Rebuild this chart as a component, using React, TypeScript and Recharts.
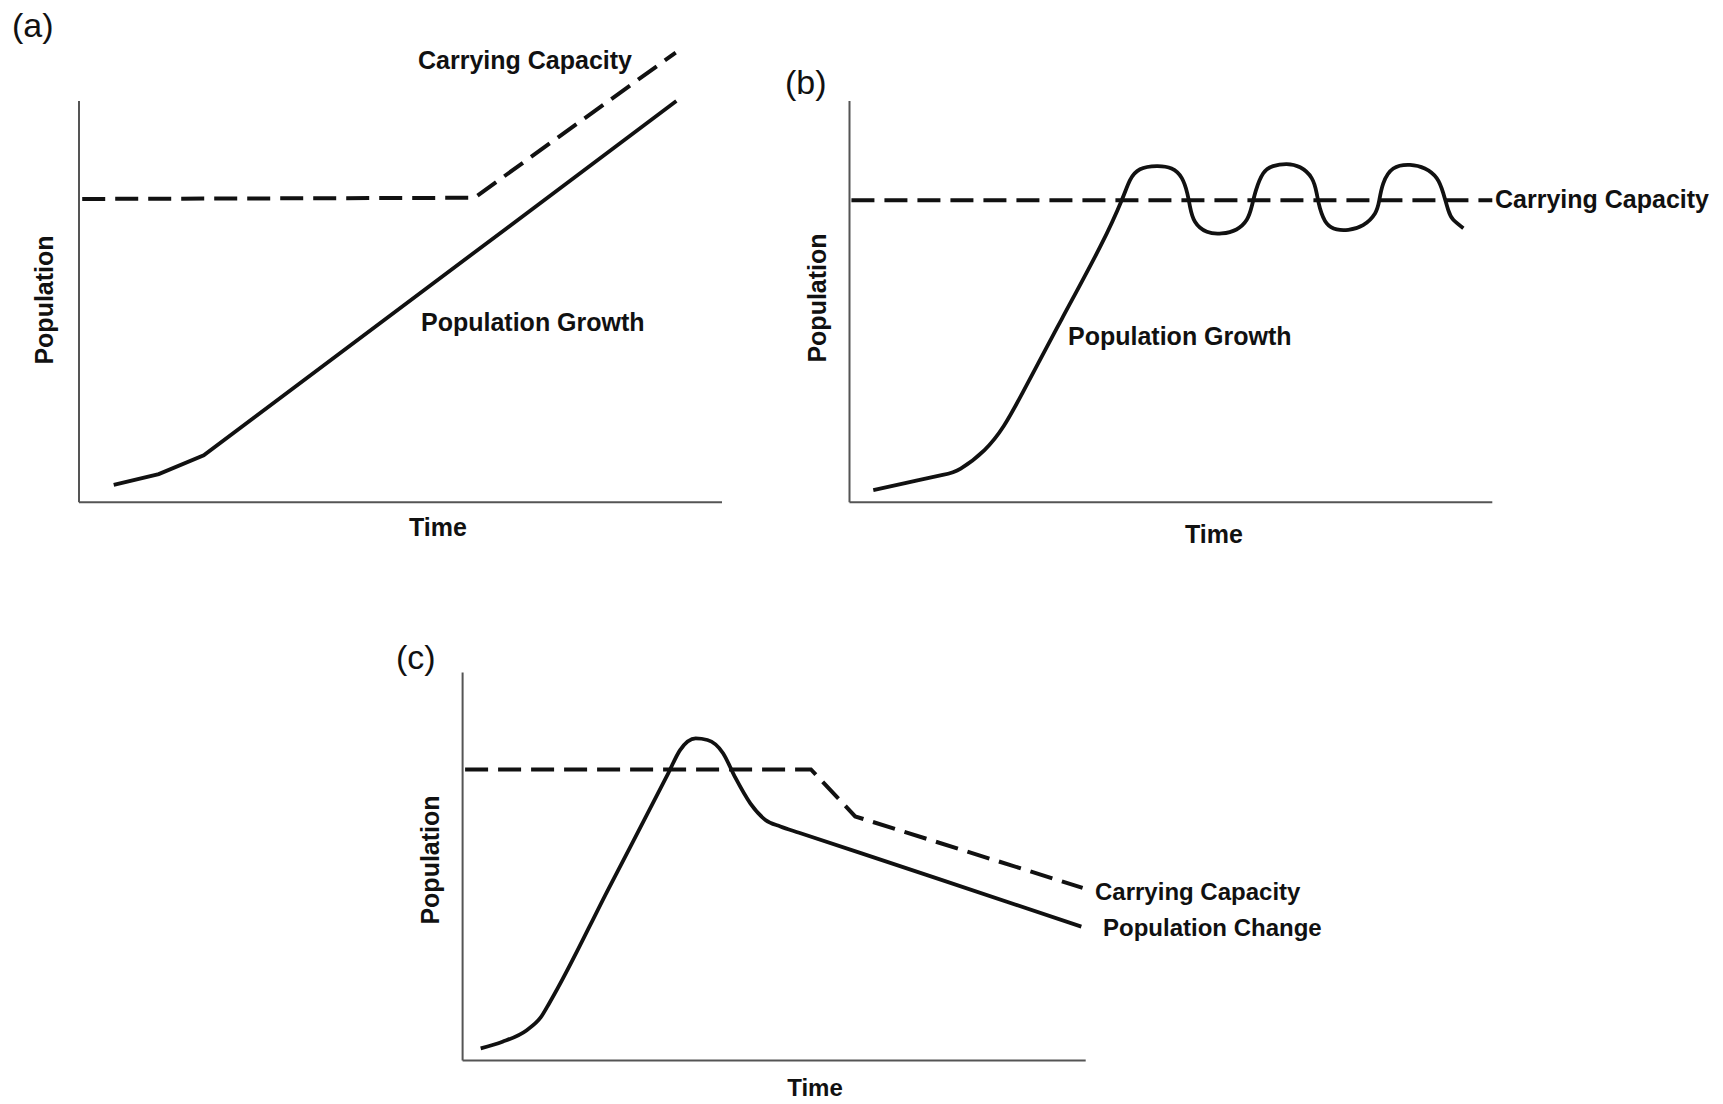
import React from 'react';
import { LineChart, Line, XAxis, YAxis, ReferenceLine } from 'recharts';

// ---------- Panel (a): carrying capacity rises, population keeps growing ----------
const aCapacityTime = [0.5, 61.5, 92.8];
const aCapacityValue = [75.6, 75.9, 112.1];
const aGrowthTime = [5.4, 12.4, 19.4, 92.9];
const aGrowthValue = [4.3, 7.0, 11.7, 100];

// ---------- Panel (b): population oscillates around carrying capacity ----------
const bCapacityTime = [0.3, 100];
const bCapacityValue = [75.3, 75.3];
const bGrowthTime = [
  3.7, 9.0, 14.5, 17.3, 21.0, 24.0, 27.0, 33.0, 39.0, 42.35, 43.64, 45.2, 47.8, 50.1, 51.7, 52.55, 52.97,
  53.75, 55.6, 57.9, 60.2, 61.8, 62.57, 63.24, 64.37, 65.9, 68.0, 70.1, 71.9, 72.68, 73.19, 74.24,
  75.8, 77.6, 79.9, 81.75, 82.42, 83.04, 84.6, 87.2, 89.5, 91.35, 92.38, 93.15, 93.93, 95.5,
];
const bGrowthValue = [
  3.0, 4.9, 6.8, 8.4, 13.0, 19.0, 27.5, 45.6, 63.7, 75.3, 80.3, 83.0, 83.8, 83.2, 80.8, 77.0, 73.7,
  69.9, 67.4, 67.0, 68.0, 70.4, 73.7, 77.8, 82.0, 83.8, 84.3, 83.5, 80.8, 77.0, 73.3, 69.5,
  68.0, 67.9, 69.1, 72.0, 75.3, 79.5, 83.2, 84.1, 83.2, 80.8, 77.0, 72.8, 70.4, 68.3,
];

// ---------- Panel (c): overshoot, then capacity and population decline ----------
const cCapacityTime = [0.4, 55.9, 63.0, 99.5];
const cCapacityValue = [75.0, 75.0, 62.9, 44.5];
const cChangeTime = [2.9, 6.4, 10.3, 12.5, 14.0, 23.5, 33.0, 34.9, 37.4, 39.3, 41.8, 43.7, 46.2, 48.6, 51.0, 54.0, 76.0, 99.3];
const cChangeValue = [3.1, 4.8, 7.8, 11.0, 15.0, 44.5, 74.0, 80.0, 83.0, 82.6, 79.2, 73.1, 66.2, 62.0, 60.3, 58.7, 47.0, 34.5];

const zip = (t: number[], v: number[]) => t.map((x, i) => ({ t: x, v: v[i] }));

const FONT = '"Liberation Sans", Arial, Helvetica, sans-serif';
const INK = '#111';

type Series = { name: string; data: { t: number; v: number }[]; dashed: boolean; curve: 'linear' | 'monotone' | 'natural' };

function Panel(props: {
  left: number; top: number; width: number; height: number;
  box: { x0: number; x1: number; yb: number; yt: number };
  yMax: number; series: Series[];
}) {
  const { left, top, width, height, box, yMax, series } = props;
  const unit = (box.yb - box.yt) / 100;
  const plotTop = box.yb - unit * yMax;
  const margin = {
    left: box.x0 - left,
    right: left + width - box.x1,
    top: plotTop - top,
    bottom: top + height - box.yb,
  };
  return (
    <div style={{ position: 'absolute', left, top, width, height }}>
      <LineChart width={width} height={height} margin={margin}>
        <XAxis type="number" dataKey="t" domain={[0, 100]} hide />
        <YAxis type="number" dataKey="v" domain={[0, yMax]} hide />
        <ReferenceLine segment={[{ x: 0, y: 0 }, { x: 0, y: 100 }]} stroke="#555" strokeWidth={2} ifOverflow="visible" />
        <ReferenceLine segment={[{ x: 0, y: 0 }, { x: 100, y: 0 }]} stroke="#555" strokeWidth={2} ifOverflow="visible" />
        {series.map((s) => (
          <Line
            key={s.name}
            name={s.name}
            data={s.data}
            dataKey="v"
            type={s.curve}
            stroke={INK}
            strokeWidth={s.dashed ? 4 : 3.8}
            strokeDasharray={s.dashed ? '23 10' : undefined}
            dot={false}
            activeDot={false}
            isAnimationActive={false}
          />
        ))}
      </LineChart>
    </div>
  );
}

function T(p: { x: number; y: number; children: string; anchor?: string; rotate?: boolean; size?: number; bold?: boolean }) {
  const size = p.size ?? 25;
  const weight = p.bold === false ? 400 : 700;
  if (p.rotate) {
    return (
      <text transform={`translate(${p.x},${p.y}) rotate(-90)`} textAnchor="middle" fontSize={size} fontWeight={weight} fill={INK} fontFamily={FONT}>
        {p.children}
      </text>
    );
  }
  return (
    <text x={p.x} y={p.y} textAnchor={p.anchor ?? 'start'} fontSize={size} fontWeight={weight} fill={INK} fontFamily={FONT}>
      {p.children}
    </text>
  );
}

export default function App() {
  return (
    <div style={{ position: 'absolute', left: 0, top: 0, width: 1723, height: 1104, background: '#fff', overflow: 'hidden' }}>
      <Panel
        left={0} top={0} width={760} height={560}
        box={{ x0: 79, x1: 722, yb: 502.2, yt: 101.1 }}
        yMax={115}
        series={[
          { name: 'Carrying Capacity', data: zip(aCapacityTime, aCapacityValue), dashed: true, curve: 'linear' },
          { name: 'Population Growth', data: zip(aGrowthTime, aGrowthValue), dashed: false, curve: 'linear' },
        ]}
      />
      <Panel
        left={780} top={0} width={760} height={560}
        box={{ x0: 849.5, x1: 1492.3, yb: 502.2, yt: 101.1 }}
        yMax={100}
        series={[
          { name: 'Carrying Capacity', data: zip(bCapacityTime, bCapacityValue), dashed: true, curve: 'linear' },
          { name: 'Population Growth', data: zip(bGrowthTime, bGrowthValue), dashed: false, curve: 'natural' },
        ]}
      />
      <Panel
        left={400} top={600} width={720} height={480}
        box={{ x0: 462.6, x1: 1085.7, yb: 1060.4, yt: 672.5 }}
        yMax={100}
        series={[
          { name: 'Carrying Capacity', data: zip(cCapacityTime, cCapacityValue), dashed: true, curve: 'linear' },
          { name: 'Population Change', data: zip(cChangeTime, cChangeValue), dashed: false, curve: 'monotone' },
        ]}
      />
      <svg width={1723} height={1104} style={{ position: 'absolute', left: 0, top: 0, pointerEvents: 'none' }}>
        <T x={12} y={37} size={34} bold={false}>(a)</T>
        <T x={785} y={94} size={34} bold={false}>(b)</T>
        <T x={396} y={669} size={34} bold={false}>(c)</T>

        <T x={418} y={69}>Carrying Capacity</T>
        <T x={421} y={331}>Population Growth</T>
        <T x={438} y={536} anchor="middle">Time</T>
        <T x={53} y={300} rotate>Population</T>

        <T x={1495} y={208}>Carrying Capacity</T>
        <T x={1068} y={345}>Population Growth</T>
        <T x={1214} y={543} anchor="middle">Time</T>
        <T x={826} y={298} rotate>Population</T>

        <T x={1095} y={900} size={24}>Carrying Capacity</T>
        <T x={1103} y={936} size={24}>Population Change</T>
        <T x={815} y={1096} size={24} anchor="middle">Time</T>
        <T x={439} y={860} rotate>Population</T>
      </svg>
    </div>
  );
}
